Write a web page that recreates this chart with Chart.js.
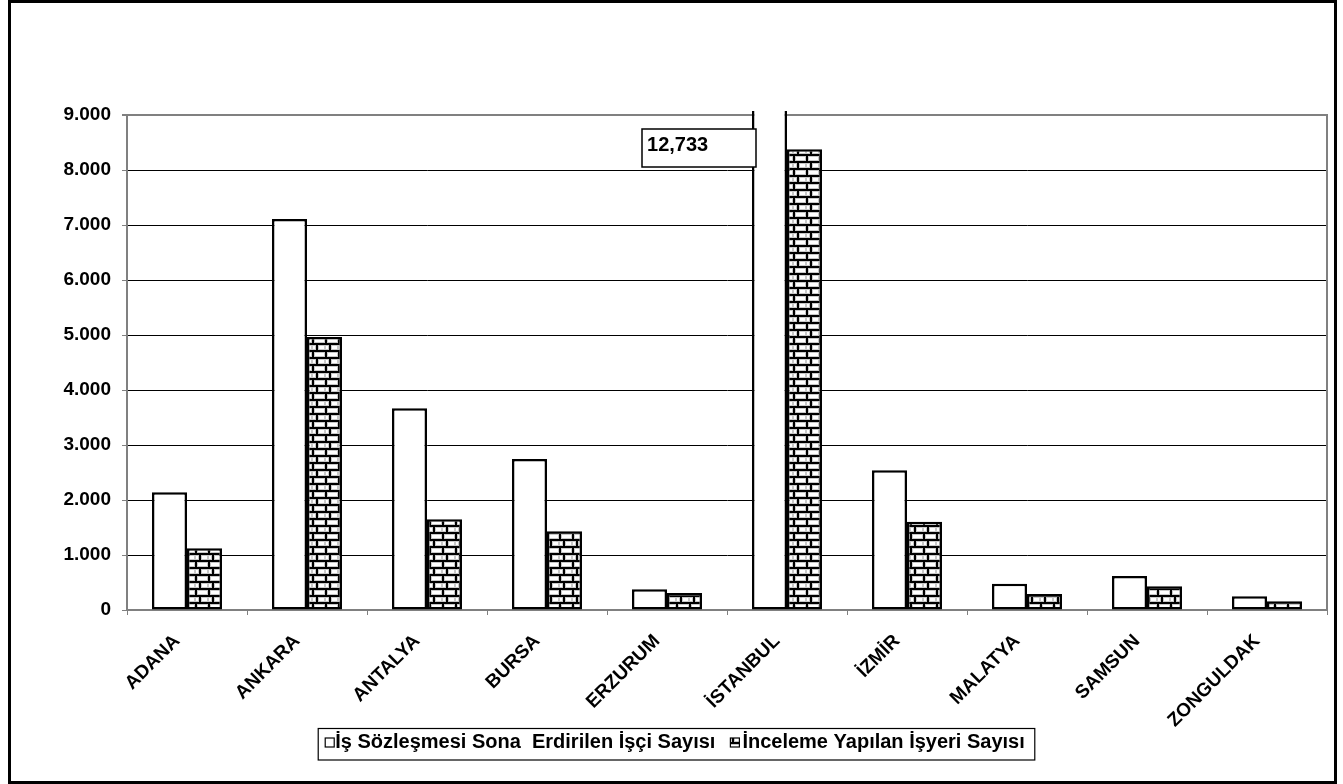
<!DOCTYPE html>
<html><head><meta charset="utf-8">
<script src="https://cdn.jsdelivr.net/npm/chart.js@4"></script>
<style>html,body{margin:0;padding:0;background:#fff;}canvas{display:block;}</style>
</head><body>
<canvas id="c" width="1343" height="784"></canvas>
<script>
const categories = ['ADANA','ANKARA','ANTALYA','BURSA','ERZURUM','İSTANBUL','İZMİR','MALATYA','SAMSUN','ZONGULDAK'];
const seriesNames = ['İş Sözleşmesi Sona  Erdirilen İşçi Sayısı','İnceleme Yapılan İşyeri Sayısı'];
const workers = [2140,7109,3667,2745,376,12733,2540,479,618,249];
const workplaces = [1122,4964,1649,1430,309,8376,1606,291,431,158];
const yTicks = [0,1000,2000,3000,4000,5000,6000,7000,8000,9000];
const yTickLabels = ['0','1.000','2.000','3.000','4.000','5.000','6.000','7.000','8.000','9.000'];
const breakLabel = '12,733';
const breakIndex = 5;

const FONT = "'Liberation Sans', Arial, sans-serif";
const GRAY = '#808080';

function brickPattern(ctx){
  const c = document.createElement('canvas');
  c.width = 13; c.height = 14;
  const g = c.getContext('2d');
  g.fillStyle = '#000'; g.fillRect(0,0,13,14);
  function brick(x,y,w,h){
    g.fillStyle = '#c8c8c8'; g.fillRect(x,y,w,h);
    g.fillStyle = '#fff'; g.fillRect(x+1,y+1,w-2,h-2);
  }
  brick(2,2,11,5);
  brick(0,9,4,5); brick(6,9,7,5);
  return ctx.createPattern(c,'repeat');
}

const cv = document.getElementById('c');
const ctx = cv.getContext('2d');
const pattern = brickPattern(ctx);

const framePlugin = {
  id:'frame',
  afterDatasetsDraw(chart){
    const c = chart.ctx, a = chart.chartArea;
    c.save();
    c.strokeStyle = GRAY; c.lineWidth = 2;
    c.beginPath(); c.moveTo(a.right, a.top-1); c.lineTo(a.right, a.bottom); c.stroke();
    const el = chart.getDatasetMeta(0).data[breakIndex];
    const left = el.x - el.width/2;
    const bx2 = left + 4, bx1 = bx2 - 114, by1 = a.top + 14, bh = 38;
    c.fillStyle = '#fff'; c.fillRect(bx1, by1, bx2-bx1, bh);
    c.strokeStyle = '#000'; c.lineWidth = 1.5;
    c.strokeRect(bx1, by1, bx2-bx1, bh);
    c.fillStyle = '#000';
    c.font = 'bold 20px ' + FONT;
    c.textBaseline = 'alphabetic'; c.textAlign = 'left';
    c.fillText(breakLabel, bx1 + 5, by1 + 22);
    c.restore();
  },
  afterDraw(chart){
    const c = chart.ctx;
    c.save();
    c.font = 'bold 20px ' + FONT;
    const w1 = c.measureText(seriesNames[0]).width;
    const w2 = c.measureText(seriesNames[1]).width;
    const total = 7 + 9 + 1 + w1 + 15 + 9 + 3 + w2 + 10;
    const lx = chart.width/2 + 5 - total/2;
    const ly = 728.5, lh = 31.5;
    c.strokeStyle = '#000'; c.lineWidth = 1.2;
    c.strokeRect(lx, ly, total, lh);
    let x = lx + 7;
    const my = ly + 9.5;
    c.fillStyle = '#fff'; c.fillRect(x, my, 9, 9);
    c.lineWidth = 1.2; c.strokeRect(x, my, 9, 9);
    x += 10;
    c.fillStyle = '#000'; c.textBaseline = 'alphabetic'; c.textAlign = 'left';
    c.fillText(seriesNames[0], x, ly + 19);
    x += w1 + 15;
    c.fillStyle = pattern; c.fillRect(x, my, 9, 9);
    c.strokeRect(x, my, 9, 9);
    x += 12;
    c.fillStyle = '#000';
    c.fillText(seriesNames[1], x, ly + 19);
    c.strokeStyle = '#000'; c.lineWidth = 3;
    c.strokeRect(9.5, 1.5, 1326, 781);
    c.restore();
  }
};

new Chart(cv, {
  type:'bar',
  data:{
    labels: categories,
    datasets:[
      {label: seriesNames[0], data: workers, backgroundColor:'#fff', borderColor:'#000', borderWidth:2.5, borderSkipped:false,
       categoryPercentage:0.5833, barPercentage:1, clip:{left:0, top:4, right:0, bottom:2}},
      {label: seriesNames[1], data: workplaces, backgroundColor: pattern, borderColor:'#000', borderWidth:2.5, borderSkipped:false,
       categoryPercentage:0.5833, barPercentage:1, clip:{left:0, top:4, right:0, bottom:2}}
    ]
  },
  options:{
    responsive:false, animation:false, devicePixelRatio:1,
    layout:{padding:{left:0, top:115, right:16, bottom:34}},
    plugins:{legend:{display:false}, tooltip:{enabled:false}},
    scales:{
      x:{
        grid:{display:true, drawOnChartArea:false, tickLength:5, color:GRAY, tickColor:GRAY, offset:true},
        border:{color:GRAY, width:2},
        ticks:{color:'#000', font:{family:FONT, weight:'bold', size:19}, maxRotation:45, minRotation:45, autoSkip:false, padding:15, labelOffset:-10},
        afterFit(s){ s.height = 140; }
      },
      y:{
        min:0, max:9000,
        afterBuildTicks(s){ s.ticks = yTicks.map(v=>({value:v})); },
        grid:{
          color: c => (c.tick && (c.tick.value === 9000 || c.tick.value === 0)) ? GRAY : '#000',
          lineWidth: c => (c.tick && c.tick.value === 9000) ? 2 : 1,
          tickLength:5, tickColor:GRAY
        },
        border:{color:GRAY, width:2},
        ticks:{color:'#000', font:{family:FONT, weight:'bold', size:19}, padding:11,
          callback:(v)=> yTickLabels[yTicks.indexOf(v)]},
        afterFit(s){ s.width = 127; }
      }
    }
  },
  plugins:[framePlugin]
});
</script>
</body></html>
